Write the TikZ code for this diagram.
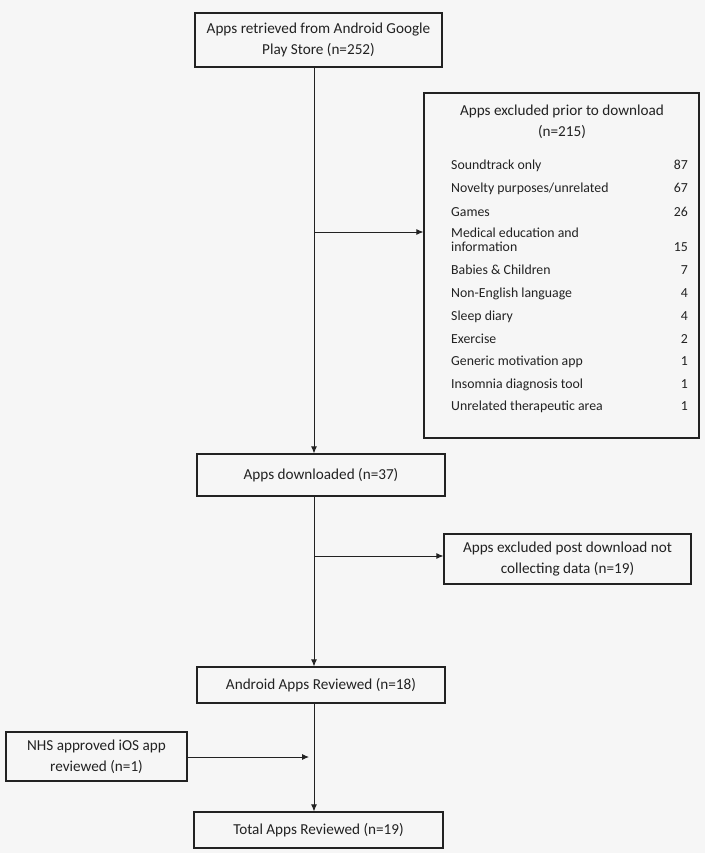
\documentclass[tikz,border=0pt]{standalone}
\usepackage{fontspec}
\setmainfont{Carlito}
\usetikzlibrary{arrows.meta}
\definecolor{bgc}{HTML}{F6F6F6}
\definecolor{ink}{HTML}{222222}
\begin{document}
\begin{tikzpicture}[x=1pt,y=-1pt,
  font=\fontsize{15.2}{21}\selectfont,
  box/.style={draw=ink,line width=1.2pt,inner sep=2pt,align=center,text=ink},
  conn/.style={draw=ink,line width=0.9pt,-{Latex[length=7pt,width=6pt]}},
  item/.style={anchor=base west,inner sep=0pt,text=ink,font=\fontsize{13.8}{16}\selectfont},
  num/.style={anchor=base east,inner sep=0pt,text=ink,font=\fontsize{13.8}{16}\selectfont}]
\fill[bgc] (0,0) rectangle (705,853);
\useasboundingbox (0,0) rectangle (705,853);
\coordinate (spine) at (314,0);
% boxes
\node[box,minimum width=247pt,minimum height=54pt] (top) at (318.5,40)
  {Apps retrieved from Android Google\\Play Store (n=252)};
\node[box,minimum width=275pt,minimum height=345pt] (excl) at (561.5,265.5) {};
\node[text=ink,align=center,anchor=north] (exclt) at (562,101)
  {Apps excluded prior to download\\(n=215)};
\node[box,minimum width=248pt,minimum height=42pt] (dl) at (321,475)
  {Apps downloaded (n=37)};
\node[box,minimum width=247pt,minimum height=50pt] (post) at (567.5,559)
  {Apps excluded post download not\\collecting data (n=19)};
\node[box,minimum width=248pt,minimum height=36pt] (andr) at (321,685)
  {Android Apps Reviewed (n=18)};
\node[box,minimum width=181pt,minimum height=49pt] (nhs) at (96.5,756.5)
  {NHS approved iOS app\\reviewed (n=1)};
\node[box,minimum width=249pt,minimum height=36pt] (total) at (318.5,830)
  {Total Apps Reviewed (n=19)};
% list
\node[item] (l1) at (451,170) {Soundtrack only};
\node[num] (n1) at (688,170) {87};
\node[item] (l2) at (451,193) {Novelty purposes/unrelated};
\node[num] (n2) at (688,193) {67};
\node[item] (l3) at (451,216) {Games};
\node[num] (n3) at (688,216) {26};
\node[item] (l4) at (451,237) {Medical education and};
\node[item] (l4b) at (451,251) {information};
\node[num] (n4) at (688,251) {15};
\node[item] (l5) at (451,274) {Babies \& Children};
\node[num] (n5) at (688,274) {7};
\node[item] (l6) at (451,297) {Non-English language};
\node[num] (n6) at (688,297) {4};
\node[item] (l7) at (451,320) {Sleep diary};
\node[num] (n7) at (688,320) {4};
\node[item] (l8) at (451,343) {Exercise};
\node[num] (n8) at (688,343) {2};
\node[item] (l9) at (451,365) {Generic motivation app};
\node[num] (n9) at (688,365) {1};
\node[item] (l10) at (451,388) {Insomnia diagnosis tool};
\node[num] (n10) at (688,388) {1};
\node[item] (l11) at (451,410) {Unrelated therapeutic area};
\node[num] (n11) at (688,410) {1};
% connectors
\coordinate (b1) at (314,232);
\coordinate (b2) at (314,556);
\coordinate (b3) at (309,757);
\draw[conn] (top.south -| spine) -- (dl.north -| spine);
\draw[conn] (b1) -- (excl.west |- b1);
\draw[conn] (dl.south -| spine) -- (andr.north -| spine);
\draw[conn] (b2) -- (post.west |- b2);
\draw[conn] (andr.south -| spine) -- (total.north -| spine);
\draw[conn] (nhs.east |- b3) -- (b3);
\end{tikzpicture}
\end{document}
